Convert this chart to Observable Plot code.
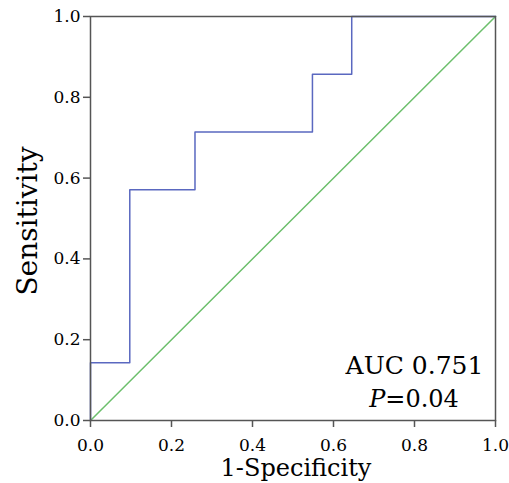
<!DOCTYPE html>
<html>
<head>
<meta charset="utf-8">
<script src="https://cdn.jsdelivr.net/npm/d3@7"></script>
<script src="https://cdn.jsdelivr.net/npm/@observablehq/plot@0.6"></script>
<style>
  html, body { margin: 0; padding: 0; background: #fff; }
</style>
</head>
<body>
<div id="chart"></div>
<script>
// ROC curve vertices (1-Specificity, Sensitivity)
const fpr = [0, 0, 0.097, 0.097, 0.258, 0.258, 0.548, 0.548, 0.645, 0.645, 1.0];
const tpr = [0, 0.143, 0.143, 0.571, 0.571, 0.714, 0.714, 0.857, 0.857, 1.0, 1.0];
const refX = [0, 1];
const refY = [0, 1];
const ticks = [0, 0.2, 0.4, 0.6, 0.8, 1.0];
const aucText = "AUC 0.751";
const pLabel = "P";
const pValue = "=0.04";

const roc = fpr.map((x, i) => ({x, y: tpr[i]}));
const diag = refX.map((x, i) => ({x, y: refY[i]}));
const fmt = d3.format(".1f");

const font = "DejaVu Serif";

const chart = Plot.plot({
  width: 509,
  height: 483,
  marginLeft: 90,
  marginRight: 14,
  marginTop: 16,
  marginBottom: 63,
  style: {fontFamily: font, fontSize: "17px", color: "#000", background: "#fff"},
  x: {domain: [0, 1]},
  y: {domain: [0, 1]},
  marks: [
    Plot.line(diag, {x: "x", y: "y", stroke: "#6cbf6c", strokeWidth: 1.5}),
    Plot.line(roc, {x: "x", y: "y", stroke: "#5a68c0", strokeWidth: 1.5}),
    Plot.frame({stroke: "#555", strokeWidth: 1.5}),
    Plot.axisX({ticks, tickFormat: () => "", tickSize: 7, stroke: "#555", strokeWidth: 1.5, label: null}),
    Plot.axisY({ticks, tickFormat: () => "", tickSize: 7, stroke: "#555", strokeWidth: 1.5, label: null}),
    Plot.text(ticks, {x: d => d, y: 0, dy: 25, text: d => fmt(d), fontSize: 17, fill: "#000"}),
    Plot.text(ticks, {x: 0, y: d => d, dx: -10, textAnchor: "end", text: d => fmt(d), fontSize: 17, fill: "#000"}),
    Plot.text([aucText], {x: 0.8, y: 0.134, text: d => d, fontSize: 25, fill: "#000"}),
    Plot.text([pLabel], {x: 0.728, y: 0.052, text: d => d, fontSize: 24, fontStyle: "italic", textAnchor: "end", fill: "#000"}),
    Plot.text([pValue], {x: 0.728, y: 0.052, text: d => d, fontSize: 24, textAnchor: "start", fill: "#000"})
  ]
});

const svg = d3.select(chart);
svg.append("text")
  .attr("x", 296)
  .attr("y", 476)
  .attr("text-anchor", "middle")
  .attr("font-family", font)
  .style("font-size", "24px")
  .attr("fill", "#000")
  .text("1-Specificity");
svg.append("text")
  .attr("transform", "translate(37,221) rotate(-90)")
  .attr("text-anchor", "middle")
  .attr("font-family", font)
  .style("font-size", "28px")
  .attr("fill", "#000")
  .text("Sensitivity");

document.getElementById("chart").appendChild(chart);
</script>
</body>
</html>
